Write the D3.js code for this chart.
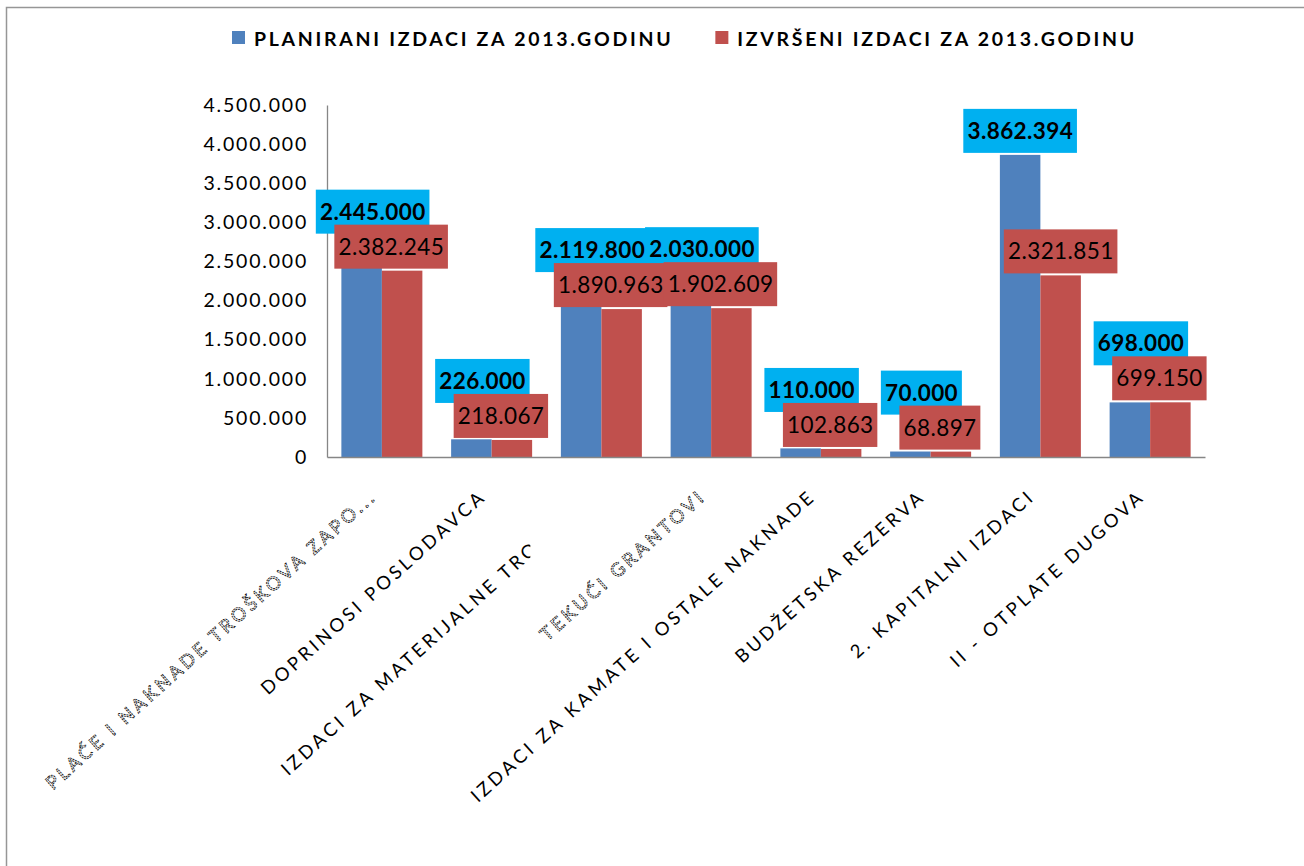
<!DOCTYPE html>
<html>
<head>
<meta charset="utf-8">
<script src="https://cdn.jsdelivr.net/npm/d3@7"></script>
<style>
    body { margin: 0; background: #ffffff; }
    svg { display: block; font-family: Lato, "Open Sans", sans-serif; }
</style>
</head>
<body>
<script>
// chart data
const categories = [
    'PLAĆE I NAKNADE TROŠKOVA ZAPO...',
    'DOPRINOSI POSLODAVCA',
    'IZDACI ZA MATERIJALNE TROŠKOVE',
    'TEKUĆI GRANTOVI',
    'IZDACI ZA KAMATE I OSTALE NAKNADE',
    'BUDŽETSKA REZERVA',
    '2. KAPITALNI  IZDACI',
    'II - OTPLATE  DUGOVA'
];
const seriesNames = ['PLANIRANI IZDACI ZA 2013.GODINU', 'IZVRŠENI IZDACI ZA 2013.GODINU'];
const planned = [2445000, 226000, 2119800, 2030000, 110000, 70000, 3862394, 698000];
const executed = [2382245, 218067, 1890963, 1902609, 102863, 68897, 2321851, 699150];
const yTicks = [0, 500000, 1000000, 1500000, 2000000, 2500000, 3000000, 3500000, 4000000, 4500000];

// styles
const barColors = ['#4F81BD', '#C0504D'];
const labelFills = ['#00B0F0', '#C0504D'];
const axisColor = '#868686';
// labels that come out as dotted outlines in the source picture
const outlinedLabels = [0, 3];

const width = 1304, height = 866;
const margin = {top: 105, right: 99, bottom: 409, left: 327};
const BOX_H = 44;

// Croatian number format: 2.445.000
const hr = d3.formatLocale({decimal: ',', thousands: '.', grouping: [3], currency: ['', '']});
const fmt = hr.format(',d');

const svg = d3.select('body')
    .append('svg')
    .attr('width', width)
    .attr('height', height);

// chart frame, only the top and left edges fall inside the picture
svg.append('rect')
    .attr('x', 6.5)
    .attr('y', 7.5)
    .attr('width', width)
    .attr('height', height)
    .attr('fill', 'none')
    .attr('stroke', '#969696')
    .attr('stroke-width', 1.5);

// scales
const x = d3.scaleBand()
    .domain(categories)
    .range([margin.left, width - margin.right]);
const xs = d3.scaleBand()
    .domain(seriesNames)
    .range([0, x.bandwidth()])
    .paddingOuter(0.355);
const y = d3.scaleLinear()
    .domain([0, d3.max(yTicks)])
    .range([height - margin.bottom, margin.top]);

const rows = categories.map((c, i) => ({c, i, values: [planned[i], executed[i]]}));

// bars
const groups = svg.append('g')
    .selectAll('g')
    .data(rows)
    .join('g')
    .attr('transform', d => `translate(${x(d.c)},0)`);
groups.selectAll('rect')
    .data(d => d.values.map((v, s) => ({v, s})))
    .join('rect')
    .attr('x', d => xs(seriesNames[d.s]))
    .attr('y', d => y(d.v))
    .attr('width', xs.bandwidth())
    .attr('height', d => y(0) - y(d.v))
    .attr('fill', d => barColors[d.s]);

// y axis
const yAxis = svg.append('g')
    .attr('transform', `translate(${margin.left},0)`)
    .call(d3.axisLeft(y).tickValues(yTicks).tickFormat(fmt).tickSize(0).tickPadding(19));
yAxis.select('.domain').attr('stroke', axisColor).attr('stroke-width', 1.3);
yAxis.selectAll('text')
    .attr('font-family', 'Lato')
    .attr('font-size', 19.5)
    .attr('letter-spacing', 1.8)
    .attr('fill', '#000');

// x axis line
const xAxis = svg.append('g')
    .attr('transform', `translate(0,${y(0)})`)
    .call(d3.axisBottom(x).tickSize(0).tickFormat(() => ''));
xAxis.select('.domain').attr('stroke', axisColor).attr('stroke-width', 1.3);

// rotated category labels
const xLabelG = svg.append('g')
    .selectAll('g')
    .data(categories)
    .join('g');
const xLabels = xLabelG.append('text')
    .attr('transform', c => `translate(${x(c) + x.bandwidth() / 2 - 4},${y(0) + 41}) rotate(-42)`)
    .attr('text-anchor', 'end')
    .attr('font-size', 18.5)
    .attr('letter-spacing', 3.4)
    .attr('fill', '#000')
    .text(c => c);
xLabels.filter((c, i) => outlinedLabels.includes(i))
    .attr('fill', '#ffffff')
    .attr('stroke', '#111')
    .attr('stroke-width', 0.9)
    .attr('stroke-dasharray', '2 0.8');

// the third label is cut where the fourth one begins
const cutAt = xLabels.nodes()[3].getBoundingClientRect().left - 5;
svg.append('clipPath').attr('id', 'cut3')
    .append('rect')
    .attr('x', 0).attr('y', 0)
    .attr('width', cutAt).attr('height', height);
d3.select(xLabelG.nodes()[2]).attr('clip-path', 'url(#cut3)');

// data labels: outside end, stacked when the pair would collide
const LABEL_FONT = 22.5;
const LABEL_LS = 0.4;
const measure = svg.append('text').attr('font-size', LABEL_FONT).attr('letter-spacing', LABEL_LS);
const textWidth = (str, bold) => {
    measure.attr('font-weight', bold ? 'bold' : 'normal').text(str);
    return measure.node().getComputedTextLength();
};
const specs = rows.map(d => d.values.map((v, s) => ({
    v, s,
    cx: x(d.c) + xs(seriesNames[s]) + xs.bandwidth() / 2,
    cy: y(v) - 2 - BOX_H / 2,
    w: textWidth(fmt(v), s === 0) + 8
})));
measure.remove();
specs.forEach(([b, r]) => {
    const hit = Math.abs(b.cx - r.cx) < (b.w + r.w) / 2 && Math.abs(b.cy - r.cy) < BOX_H;
    if (hit) {
        b.cx += 11;
        r.cx -= 11;
        b.cy = r.cy - BOX_H + 9;
    }
});

[0, 1].forEach(s => {
    const layer = svg.append('g');
    const lab = layer.selectAll('g')
        .data(specs.map(p => p[s]))
        .join('g')
        .attr('transform', d => `translate(${d.cx},${d.cy})`);
    lab.append('rect')
        .attr('x', d => -d.w / 2)
        .attr('y', -BOX_H / 2)
        .attr('width', d => d.w)
        .attr('height', BOX_H)
        .attr('fill', labelFills[s]);
    lab.append('text')
        .attr('text-anchor', 'middle')
        .attr('dy', '0.36em')
        .attr('x', LABEL_LS / 2)
        .attr('font-size', LABEL_FONT)
        .attr('letter-spacing', LABEL_LS)
        .attr('font-weight', s === 0 ? 'bold' : 'normal')
        .attr('fill', '#000')
        .text(d => fmt(d.v));
});

// legend
const legend = svg.append('g').attr('transform', 'translate(232,0)');
let lx = 0;
seriesNames.forEach((name, s) => {
    const item = legend.append('g').attr('transform', `translate(${lx},0)`);
    item.append('rect')
        .attr('x', 0)
        .attr('y', 31)
        .attr('width', 13)
        .attr('height', 13)
        .attr('fill', barColors[s]);
    const t = item.append('text')
        .attr('x', 22)
        .attr('y', 46)
        .attr('font-size', 19.5)
        .attr('font-weight', 'bold')
        .attr('letter-spacing', 2.7)
        .attr('fill', '#000')
        .text(name);
    lx += 22 + t.node().getComputedTextLength() + 42;
});
</script>
</body>
</html>
